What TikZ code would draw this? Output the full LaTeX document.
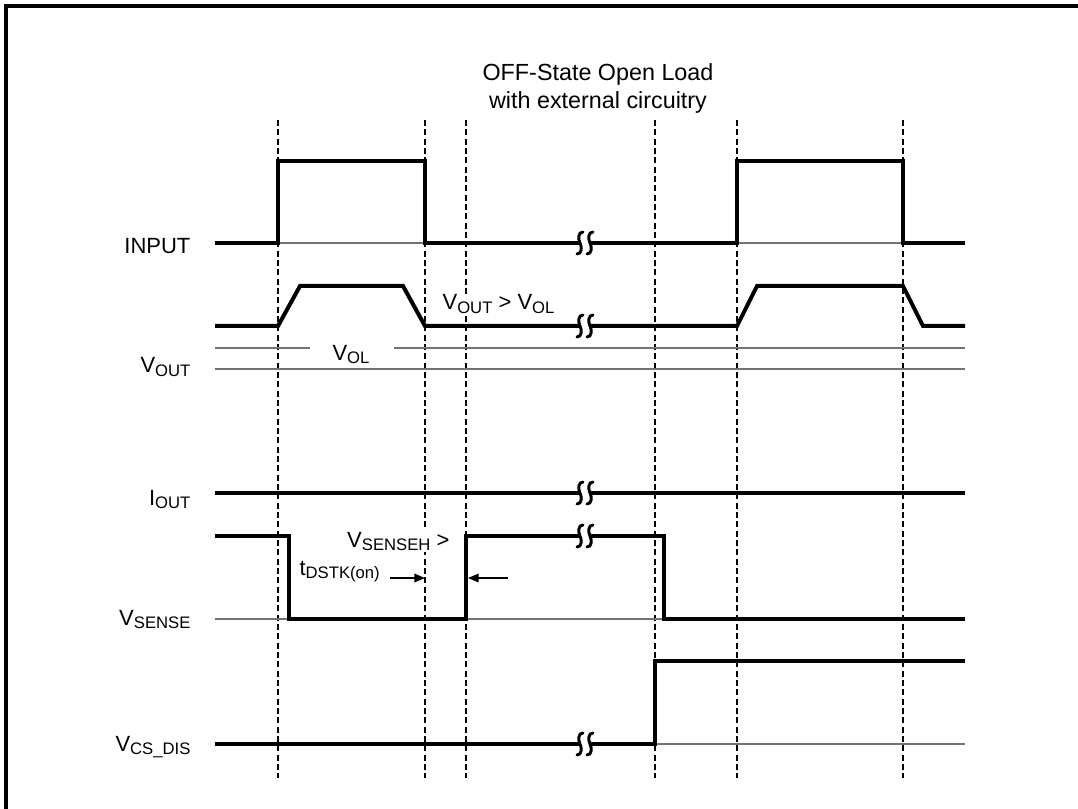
\documentclass[tikz,border=0pt]{standalone}
\usepackage{fontspec}
\setmainfont{Liberation Sans}
\usetikzlibrary{arrows.meta}
\newcommand\lsub[1]{\raisebox{-2.6pt}{\fontsize{12.5}{12}\selectfont #1}}
\tikzset{
  sig/.style={line width=3pt,line join=miter},
  refln/.style={line width=1pt,black!55},
  tmark/.style={line width=1.1pt,dash pattern=on 4.5pt off 2.5pt},
  frame/.style={line width=2.4pt},
  lbl/.style={font=\fontsize{16.5}{20}\selectfont,inner sep=1pt},
  arr/.style={-{Triangle[length=8pt,width=6.5pt]},line width=1pt},
  brk/.pic={
    \fill[white] (-4,-6) rectangle (4,6);
    \foreach \dx in {-5,5}
      \draw[line width=2.2pt,line cap=round]
        ({\dx+3},-11) .. controls ({\dx-2},-11) and ({\dx-2},-4) .. (\dx,0)
        .. controls ({\dx+2},4) and ({\dx+2},11) .. ({\dx-3},11);
  },
}
\begin{document}
\begin{tikzpicture}[x=0.75pt,y=-0.75pt]
  \useasboundingbox (0,0) rectangle (1078,809);
  % frame
  \draw[frame] (6,809) -- (6,6) -- (1078,6);
  % title
  \node[lbl,font=\fontsize{17.5}{21}\selectfont,align=center] (title) at (598,88)
    {OFF-State Open Load\\with external circuitry};
  % time markers
  \foreach \t in {278,425,466,655,737,903}
    \draw[tmark] (\t,120) -- (\t,778);
  % reference levels
  \draw[refln] (215,243) -- (965,243);
  \draw[refln] (215,348) -- (310,348) (394,348) -- (965,348);
  \draw[refln] (215,369) -- (965,369);
  \draw[refln] (215,619) -- (965,619);
  \draw[refln] (655,744) -- (965,744);
  % INPUT
  \draw[sig] (215,243) -- (278,243) -- (278,161) -- (425,161) -- (425,243)
    -- (737,243) -- (737,161) -- (903,161) -- (903,243) -- (965,243);
  % VOUT
  \draw[sig] (215,326) -- (278,326) -- (300,286) -- (403,286) -- (425,326)
    -- (737,326) -- (757,286) -- (903,286) -- (923,326) -- (965,326);
  % IOUT
  \draw[sig] (215,493) -- (965,493);
  % VSENSE
  \draw[sig] (215,536) -- (289,536) -- (289,619) -- (466,619) -- (466,536)
    -- (664,536) -- (664,619) -- (965,619);
  % VCS_DIS
  \draw[sig] (215,744) -- (655,744) -- (655,661) -- (965,661);
  % time breaks
  \foreach \y in {243,326,493,536,744}
    \pic at (585,\y) {brk};
  % signal names
  \node[lbl,anchor=base east] (lin) at (192,254) {INPUT};
  \node[lbl,anchor=base east] (lvout) at (192,373) {V\lsub{OUT}};
  \node[lbl,anchor=base east] (liout) at (192,505) {I\lsub{OUT}};
  \node[lbl,anchor=base east] (lvsense) at (192,625) {V\lsub{SENSE}};
  \node[lbl,anchor=base east] (lvcs) at (192,751) {V\lsub{CS\_DIS}};
  % annotations
  \node[lbl,fill=white,anchor=base] (lvol) at (351,360) {V\lsub{OL}};
  \node[lbl,fill=white,anchor=base west] (lcmp) at (441,310) {V\lsub{OUT} > V\lsub{OL}};
  \node[lbl,fill=white,anchor=base east] (lvsh) at (451,547) {V\lsub{SENSEH} >};
  \node[lbl,anchor=base west] (ltd) at (298,575) {t\lsub{DSTK(on)}};
  \coordinate (ta) at (390,578);
  \coordinate (tb) at (425,578);
  \coordinate (tc) at (508,578);
  \coordinate (td) at (468,578);
  \draw[arr] (ta) -- (tb);
  \draw[arr] (tc) -- (td);
\end{tikzpicture}
\end{document}
